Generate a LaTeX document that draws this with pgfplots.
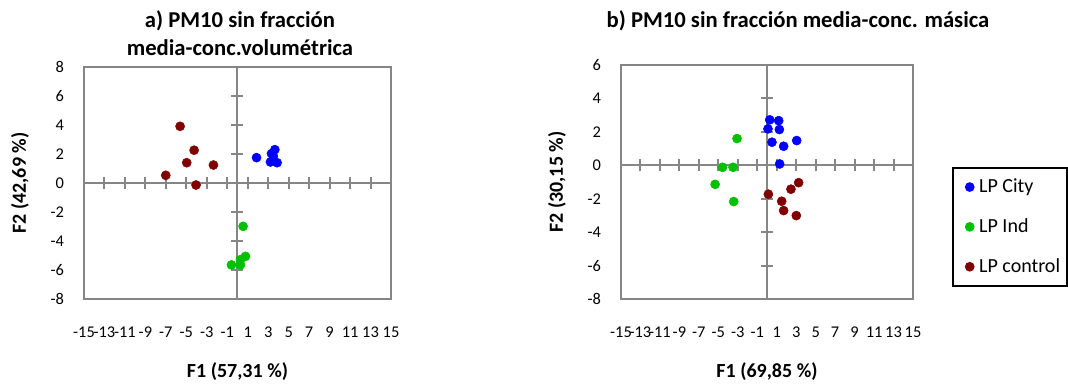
\documentclass[border=0pt]{standalone}
\usepackage{pgfplots}
\pgfplotsset{compat=1.18}
\usepackage{fontspec}
\setmainfont{Carlito}
\definecolor{cityc}{RGB}{0,0,255}
\definecolor{indc}{RGB}{0,192,0}
\definecolor{ctrlc}{RGB}{128,0,0}
\definecolor{axg}{RGB}{134,134,134}

\pgfplotsset{
 pcastyle/.style={
  scale only axis,
  anchor=south west,
  axis line style={axg, line width=1.5pt},
  tick style={draw=none},
  major tick length=0pt,
  xmin=-15,xmax=15,
  xtick={-15,-13,...,15},
  /pgf/number format/assume math mode=true,
  ticklabel style={font=\fontsize{12.3}{14}\selectfont},
  xticklabel style={anchor=center, yshift=-24.75pt},
  yticklabel style={anchor=east, xshift=-11.5pt},
  label style={font=\fontsize{15}{17}\selectfont\bfseries},
  xlabel style={at={([yshift=-54.75pt]axis description cs:0.5,0)}, anchor=center},
  ylabel style={at={([xshift=-48pt]axis description cs:0,0.5)}, anchor=center},
  clip=false,
  only marks, mark=*, mark size=3.4pt,
 }
}

\begin{document}
\begin{tikzpicture}
\useasboundingbox (0,0) rectangle (801pt,288.75pt);

% Panel a
\begin{axis}[pcastyle,
  at={(63pt,64.5pt)},
  width=230.25pt, height=174pt,
  ymin=-8, ymax=8, ytick={-8,-6,...,8},
  xlabel={F1 (57,31 \%)}, ylabel={F2 (42,69 \%)}]
\draw[axg, line width=1.5pt] (axis cs:0,-8) -- (axis cs:0,8);
\draw[axg, line width=1.5pt] (axis cs:-15,0) -- (axis cs:15,0);
\pgfplotsinvokeforeach{-15,-13,...,15}{\draw[axg,line width=1.5pt] ([yshift=-4.5pt]axis cs:#1,0) -- ([yshift=4.5pt]axis cs:#1,0);}
\pgfplotsinvokeforeach{-8,-6,...,8}{\draw[axg,line width=1.5pt] ([xshift=-4.5pt]axis cs:0,#1) -- ([xshift=4.5pt]axis cs:0,#1);}
\addplot[cityc, only marks, mark=*, mark options={draw=cityc, fill=cityc}] coordinates {
 (1.86,1.75) (3.65,2.30) (3.32,2.03) (3.50,1.85) (3.22,1.45) (3.87,1.40)};
\addplot[indc, only marks, mark=*, mark options={draw=indc, fill=indc}] coordinates {
 (0.55,-2.99) (0.78,-5.06) (0.29,-5.29) (-0.59,-5.65) (0.29,-5.65)};
\addplot[ctrlc, only marks, mark=*, mark options={draw=ctrlc, fill=ctrlc}] coordinates {
 (-5.61,3.91) (-4.24,2.26) (-4.96,1.40) (-2.35,1.24) (-7.01,0.53) (-4.05,-0.14)};
\end{axis}

% Panel b
\begin{axis}[pcastyle,
  at={(465.75pt,64.5pt)},
  width=219pt, height=175.5pt,
  ymin=-8, ymax=6, ytick={-8,-6,...,6},
  xlabel={F1 (69,85 \%)}, ylabel={F2 (30,15 \%)},
  legend style={at={(1.134,0.564)}, anchor=north west, draw=black, line width=1.2pt,
    font=\fontsize{15}{17}\selectfont, row sep=14pt, inner ysep=6.5pt, inner xsep=3pt},
  legend cell align=left,
  legend image code/.code={\path (0pt,0pt) (13.5pt,0pt); \draw[#1, mark size=3pt] plot coordinates {(9pt,0pt)};}]
\draw[axg, line width=1.5pt] (axis cs:0,-8) -- (axis cs:0,6);
\draw[axg, line width=1.5pt] (axis cs:-15,0) -- (axis cs:15,0);
\pgfplotsinvokeforeach{-15,-13,...,15}{\draw[axg,line width=1.5pt] ([yshift=-4.5pt]axis cs:#1,0) -- ([yshift=4.5pt]axis cs:#1,0);}
\pgfplotsinvokeforeach{-8,-6,...,6}{\draw[axg,line width=1.5pt] ([xshift=-4.5pt]axis cs:0,#1) -- ([xshift=4.5pt]axis cs:0,#1);}
\addplot[cityc, only marks, mark=*, mark options={draw=cityc, fill=cityc}] coordinates {
 (0.28,2.72) (1.20,2.67) (0.10,2.18) (1.27,2.14) (3.05,1.48) (0.51,1.38) (1.71,1.14) (1.30,0.08)};
\addlegendentry{LP City}
\addplot[indc, only marks, mark=*, mark options={draw=indc, fill=indc}] coordinates {
 (-3.08,1.60) (-4.57,-0.12) (-3.49,-0.12) (-5.33,-1.14) (-3.42,-2.17)};
\addlegendentry{LP Ind}
\addplot[ctrlc, only marks, mark=*, mark options={draw=ctrlc, fill=ctrlc}] coordinates {
 (3.25,-1.04) (2.46,-1.43) (0.14,-1.73) (1.51,-2.15) (1.71,-2.71) (3.01,-3.01)};
\addlegendentry{LP control}
\end{axis}

% Titles
\node[font=\fontsize{17}{19}\selectfont\bfseries] at (180pt,273pt) {a) PM10 sin fracción};
\node[font=\fontsize{17}{19}\selectfont\bfseries] at (180pt,252.75pt) {media-conc.volumétrica};
\node[font=\fontsize{17}{19}\selectfont\bfseries] at (598.5pt,273pt) {b) PM10 sin fracción media-conc. másica};
\end{tikzpicture}
\end{document}
